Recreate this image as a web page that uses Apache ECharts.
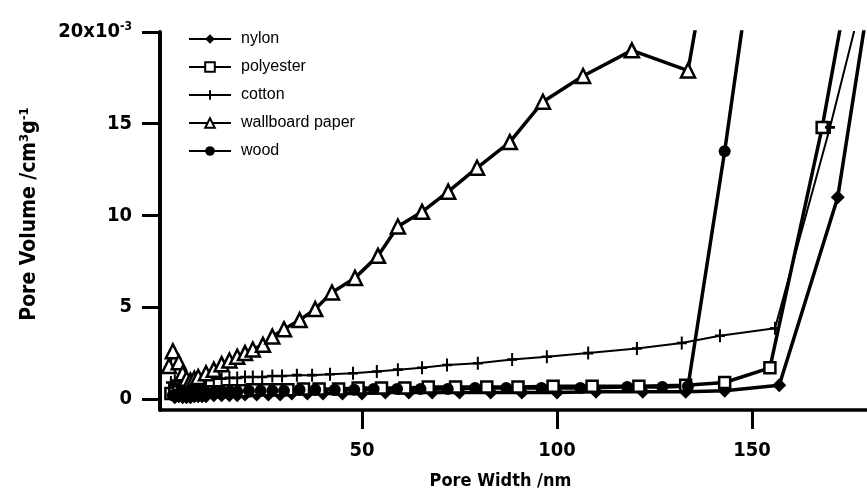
<!DOCTYPE html>
<html>
<head>
<meta charset="utf-8">
<script src="https://cdn.jsdelivr.net/npm/echarts@6/dist/echarts.min.js"></script>
<style>
html,body{margin:0;padding:0;background:#fff;}
#c{width:867px;height:490px;}
</style>
</head>
<body>
<div id="c"></div>
<script>
// ---- data (x: pore width / nm, y: pore volume / 10^-3 cm3 g-1) ----
const seriesNames = ['nylon', 'polyester', 'cotton', 'wallboard paper', 'wood'];
const xTicks = [50, 100, 150];
const yTicks = [0, 5, 10, 15, 20];

const nylon = [[2,0.1],[3,0.15],[4,0.1],[5,0.1],[6,0.1],[7,0.15],[8,0.15],[9,0.15],[10,0.15],[12,0.2],[14,0.2],[16,0.2],[18,0.2],[20,0.25],[23,0.25],[26,0.25],[29,0.25],[32,0.3],[36,0.3],[40,0.3],[45,0.3],[50,0.3],[56,0.35],[62,0.35],[68,0.35],[75,0.35],[83,0.35],[91,0.35],[100,0.35],[110,0.4],[122,0.4],[133,0.4],[143,0.45],[157,0.75],[172,11.0],[186,30]];

const polyester = [[1,0.3],[2,0.5],[3,0.4],[4,0.35],[5,0.3],[6,0.3],[7,0.3],[8,0.35],[9,0.35],[10,0.4],[12,0.4],[14,0.4],[16,0.45],[18,0.45],[20,0.45],[22,0.5],[25,0.5],[28,0.5],[31,0.5],[35,0.55],[39,0.55],[44,0.55],[49,0.6],[55,0.6],[61,0.6],[67,0.65],[74,0.65],[82,0.65],[90,0.65],[99,0.7],[109,0.7],[121,0.7],[133,0.75],[143,0.9],[154.6,1.7],[168,14.8],[181,30]];

const cotton = [[1,0.9],[2,1.0],[3,0.95],[4,0.9],[5,0.95],[6,1.0],[7,1.0],[8,1.05],[9,1.05],[10,1.1],[12,1.1],[14,1.1],[16,1.15],[18,1.15],[20,1.2],[22,1.2],[24.4,1.2],[27,1.25],[29.5,1.25],[33.3,1.3],[37.2,1.3],[41.8,1.35],[47.7,1.4],[53.8,1.5],[59.2,1.6],[65.4,1.7],[71.8,1.85],[79.7,1.95],[88.5,2.15],[97.4,2.3],[108,2.5],[120.5,2.75],[132,3.05],[141.8,3.45],[155.9,3.85],[170,14.8],[188,30]];

const wallboard = [[0.5,1.8],[1.5,2.6],[3,2.0],[4,1.4],[5,1.1],[6,1.0],[7,1.1],[8,1.2],[10,1.4],[12,1.6],[14,1.9],[16,2.1],[18,2.3],[20,2.5],[22,2.7],[24.6,2.95],[27,3.4],[30,3.8],[34,4.3],[38,4.9],[42.3,5.8],[48.2,6.6],[54.1,7.8],[59.2,9.4],[65.4,10.2],[72.1,11.3],[79.5,12.6],[87.9,14.0],[96.4,16.2],[106.7,17.6],[119.2,19.0],[133.6,17.9],[143.6,30]];

const wood = [[1.5,0.2],[3,0.3],[4,0.25],[5,0.25],[6,0.3],[7,0.3],[8,0.3],[9,0.35],[10,0.35],[12,0.35],[14,0.4],[16,0.4],[18,0.4],[21,0.45],[24,0.45],[27,0.45],[30,0.45],[34,0.5],[38,0.5],[43,0.5],[48,0.5],[53,0.55],[59,0.55],[65,0.55],[72,0.55],[79,0.6],[87,0.6],[96,0.6],[106,0.6],[118,0.65],[127,0.65],[133.6,0.7],[143,13.5],[154,30]];

const PLUS = 'path://M4,0 L6,0 L6,4 L10,4 L10,6 L6,6 L6,10 L4,10 L4,6 L0,6 L0,4 L4,4 Z';
const FONT = "'Liberation Sans Narrow','DejaVu Sans Condensed','Liberation Sans',Arial,sans-serif";

function mk(name, data, symbol, size, filled, lw) {
  return {
    name: name, type: 'line', data: data, symbol: symbol, symbolSize: size,
    showAllSymbol: true, clip: true, animation: false,
    color: '#000',
    lineStyle: {color: '#000', width: lw},
    itemStyle: {color: filled ? '#000' : '#fff', borderColor: '#000', borderWidth: filled ? 0 : 2.5},
    emphasis: {disabled: true}
  };
}

const chart = echarts.init(document.getElementById('c'), null, {renderer: 'canvas'});
chart.setOption({
  backgroundColor: '#fff',
  animation: false,
  grid: {left: 160, right: 0, top: 32, bottom: 80, containLabel: false, outerBoundsMode: 'none'},
  legend: {
    orient: 'vertical', left: 188, top: 31, padding: 0, itemWidth: 42, itemHeight: 12, itemGap: 12,
    textStyle: {fontFamily: "'Liberation Sans',Arial,sans-serif", fontSize: 16, color: '#000', padding: [0,0,0,5]},
    data: seriesNames
  },
  xAxis: {
    type: 'value', min: -1.8, max: 179.5,
    name: 'Pore Width /nm', nameLocation: 'middle', nameGap: 62,
    nameTextStyle: {fontFamily: FONT, fontWeight: 'bold', fontSize: 18, color: '#000', padding: [0, 26, 0, 0]},
    axisLine: {show: true, onZero: false, lineStyle: {color: '#000', width: 3.5}},
    axisTick: {show: true, inside: false, length: 19, customValues: xTicks, lineStyle: {color: '#000', width: 3}},
    axisLabel: {customValues: xTicks, margin: 31, fontFamily: FONT, fontWeight: 'bold', fontSize: 20, color: '#000'},
    splitLine: {show: false}
  },
  yAxis: {
    type: 'value', min: -0.6, max: 20,
    name: '{t|Pore Volume /cm}{s|3}{t|g}{s|-1}', nameLocation: 'middle', nameGap: 118, nameRotate: 90,
    nameTextStyle: {
      padding: [0, 0, 0, 14],
      rich: {
        t: {fontFamily: FONT, fontWeight: 'bold', fontSize: 21, color: '#000'},
        s: {fontFamily: FONT, fontWeight: 'bold', fontSize: 13, color: '#000', padding: [0,0,11,0]}
      }
    },
    axisLine: {show: true, onZero: false, lineStyle: {color: '#000', width: 4}},
    axisTick: {show: true, inside: false, length: 18, customValues: yTicks, lineStyle: {color: '#000', width: 3}},
    axisLabel: {
      customValues: yTicks, margin: 28,
      formatter: function (v) { return v === 20 ? '{a|20x10}{s|-3}' : '{a|' + v + '}'; },
      rich: {
        a: {fontFamily: FONT, fontWeight: 'bold', fontSize: 20, color: '#000'},
        s: {fontFamily: FONT, fontWeight: 'bold', fontSize: 12, color: '#000', padding: [0,0,10,0]}
      }
    },
    splitLine: {show: false}
  },
  series: [
    mk('nylon', nylon, 'diamond', 14, true, 3.5),
    mk('polyester', polyester, 'rect', 11, false, 3.5),
    mk('cotton', cotton, PLUS, [10, 13], true, 2),
    mk('wallboard paper', wallboard, 'triangle', 14, false, 3.5),
    mk('wood', wood, 'circle', 12, true, 3.5)
  ]
});
</script>
</body>
</html>
